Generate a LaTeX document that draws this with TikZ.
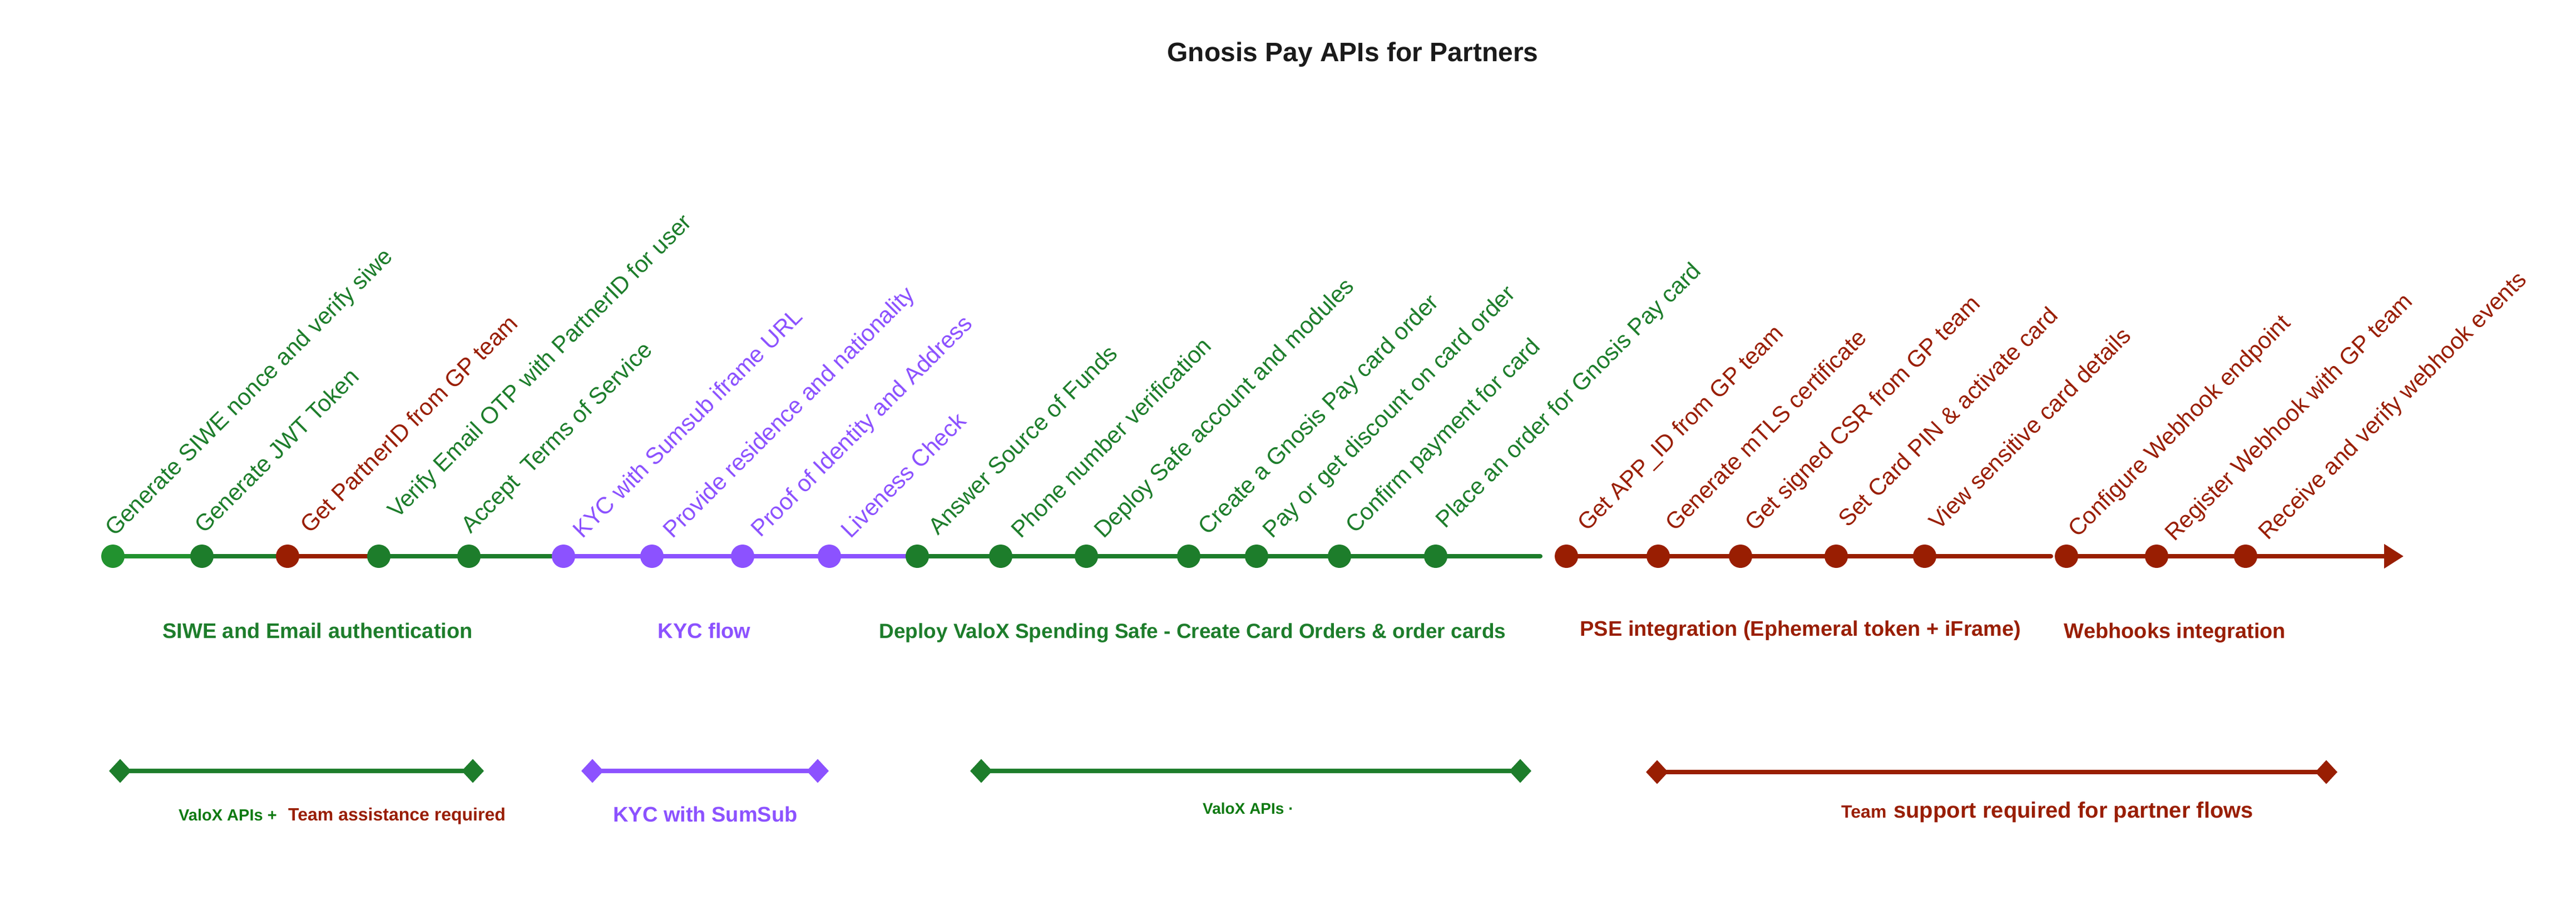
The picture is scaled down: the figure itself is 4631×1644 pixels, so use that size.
\documentclass[tikz,border=0pt]{standalone}
\usepackage{fontspec}
\setmainfont{Liberation Sans}
\usetikzlibrary{shapes.geometric,arrows.meta,backgrounds}
\definecolor{gdark}{HTML}{1D7D2B}
\definecolor{glight}{HTML}{22922F}
\definecolor{gtext}{HTML}{0F7A12}
\definecolor{rdark}{HTML}{991E02}
\definecolor{purp}{HTML}{8C52FF}
\definecolor{ttl}{HTML}{1A1A1A}
\begin{document}
\begin{tikzpicture}[x=1pt,y=-1pt,
  tdot/.style={circle,inner sep=0pt,minimum size=42pt,fill=#1},
  lbl/.style={rotate=45,anchor=base west,inner sep=0pt,text=#1,font=\fontsize{42}{50}\selectfont,xshift=20pt},
  seg/.style={line width=8pt,draw=#1,line cap=round},
  cat/.style={anchor=base,inner sep=0pt,text=#1,font=\fontsize{38}{46}\selectfont\bfseries},
  sub/.style={anchor=base west,inner sep=0pt,text=#1},
  dmd/.style={diamond,inner sep=0pt,minimum width=40pt,minimum height=43pt,fill=#1},
  bar/.style={line width=8pt,draw=#1}
]
\useasboundingbox (0,0) rectangle (4631,1644);

% title
\node[anchor=base,inner sep=0pt,text=ttl,font=\fontsize{48}{56}\selectfont\bfseries] (title) at (2432,110) {Gnosis Pay APIs for Partners};

% dots
\node[tdot=glight] (d1) at (203,1000) {};
\node[tdot=gdark] (d2) at (363,1000) {};
\node[tdot=rdark] (d3) at (517,1000) {};
\node[tdot=gdark] (d4) at (681,1000) {};
\node[tdot=gdark] (d5) at (843,1000) {};
\node[tdot=purp] (d6) at (1013,1000) {};
\node[tdot=purp] (d7) at (1172,1000) {};
\node[tdot=purp] (d8) at (1335,1000) {};
\node[tdot=purp] (d9) at (1491,1000) {};
\node[tdot=gdark] (d10) at (1649,1000) {};
\node[tdot=gdark] (d11) at (1799,1000) {};
\node[tdot=gdark] (d12) at (1953,1000) {};
\node[tdot=gdark] (d13) at (2137,1000) {};
\node[tdot=gdark] (d14) at (2259,1000) {};
\node[tdot=gdark] (d15) at (2408,1000) {};
\node[tdot=gdark] (d16) at (2581,1000) {};
\node[tdot=rdark] (d17) at (2816,1000) {};
\node[tdot=rdark] (d18) at (2981,1000) {};
\node[tdot=rdark] (d19) at (3129,1000) {};
\node[tdot=rdark] (d20) at (3301,1000) {};
\node[tdot=rdark] (d21) at (3460,1000) {};
\node[tdot=rdark] (d22) at (3715,1000) {};
\node[tdot=rdark] (d23) at (3877,1000) {};
\node[tdot=rdark] (d24) at (4037,1000) {};
\coordinate (gend) at (2769,1000);
\coordinate (rend) at (3687,1000);
\coordinate (tip) at (4321,1000);

\begin{scope}[on background layer]
\draw[seg=glight] (d1.center) -- (d2.center);
\draw[seg=gdark] (d2.center) -- (d3.center);
\draw[seg=rdark] (d3.center) -- (d4.center);
\draw[seg=gdark] (d4.center) -- (d5.center) -- (d6.center);
\draw[seg=purp] (d6.center) -- (d7.center) -- (d8.center) -- (d9.center) -- (d10.center);
\draw[seg=gdark] (d10.center) -- (d11.center) -- (d12.center) -- (d13.center) -- (d14.center) -- (d15.center) -- (d16.center) -- (gend);
\draw[seg=rdark] (d17.center) -- (d18.center) -- (d19.center) -- (d20.center) -- (d21.center) -- (rend);
\draw[line width=8pt,draw=rdark,-{Triangle[length=35pt,width=42pt]}] (d22.center) -- (d23.center) -- (d24.center) -- (tip);
\end{scope}

% step labels
\node[lbl=gdark] (l1) at (192,980) {Generate SIWE nonce and verify siwe};
\node[lbl=gdark] (l2) at (353,975) {Generate JWT Token};
\node[lbl=rdark] (l3) at (543,975) {Get PartnerID from GP team};
\node[lbl=gdark] (l4) at (700,948) {Verify Email OTP with PartnerID for user};
\node[lbl=gdark] (l5) at (832,975) {Accept\ \ Terms of Service};
\node[lbl=purp] (l6) at (1033,984) {KYC with Sumsub iframe URL};
\node[lbl=purp] (l7) at (1195,984) {Provide residence and nationality};
\node[lbl=purp] (l8) at (1353,982) {Proof of Identity and Address};
\node[lbl=purp] (l9) at (1515,984) {Liveness Check};
\node[lbl=gdark] (l10) at (1672,978) {Answer Source of Funds};
\node[lbl=gdark] (l11) at (1821,984) {Phone number verification};
\node[lbl=gdark] (l12) at (1970,984) {Deploy Safe account and modules};
\node[lbl=gdark] (l13) at (2157,978) {Create a Gnosis Pay card order};
\node[lbl=gdark] (l14) at (2273,984) {Pay or get discount on card order};
\node[lbl=gdark] (l15) at (2422,975) {Confirm payment for card};
\node[lbl=gdark] (l16) at (2584,966) {Place an order for Gnosis Pay card};
\node[lbl=rdark] (l17) at (2839,971) {Get APP\_ID from GP team};
\node[lbl=rdark] (l18) at (2997,971) {Generate mTLS certificate};
\node[lbl=rdark] (l19) at (3140,971) {Get signed CSR from GP team};
\node[lbl=rdark] (l20) at (3308,964) {Set Card PIN \& activate card};
\node[lbl=rdark] (l21) at (3471,969) {View sensitive card details};
\node[lbl=rdark] (l22) at (3721,982) {Configure Webhook endpoint};
\node[lbl=rdark] (l23) at (3895,989) {Register Webhook with GP team};
\node[lbl=rdark] (l24) at (4063,987) {Receive and verify webhook events};

% category labels
\node[cat=gdark] (c1) at (571,1147) {SIWE and Email authentication};
\node[cat=purp] (c2) at (1266,1147) {KYC flow};
\node[cat=gdark,font=\fontsize{37}{44}\selectfont\bfseries] (c3) at (2144,1147) {Deploy ValoX Spending Safe - Create Card Orders \& order cards};
\node[cat=rdark] (c4) at (3237,1143) {PSE integration (Ephemeral token + iFrame)};
\node[cat=rdark] (c5) at (3910,1147) {Webhooks integration};

% range bars
\node[dmd=gdark] (b1a) at (216,1386) {};
\node[dmd=gdark] (b1b) at (850,1386) {};
\node[dmd=purp] (b2a) at (1065,1386) {};
\node[dmd=purp] (b2b) at (1470,1386) {};
\node[dmd=gdark] (b3a) at (1764,1386) {};
\node[dmd=gdark] (b3b) at (2733,1386) {};
\node[dmd=rdark] (b4a) at (2979,1388) {};
\node[dmd=rdark] (b4b) at (4182,1388) {};
\begin{scope}[on background layer]
\draw[bar=gdark] (b1a.center) -- (b1b.center);
\draw[bar=purp] (b2a.center) -- (b2b.center);
\draw[bar=gdark] (b3a.center) -- (b3b.center);
\draw[bar=rdark] (b4a.center) -- (b4b.center);
\end{scope}

% bar captions
\node[sub=gtext,font=\fontsize{29}{34}\selectfont\bfseries] (s1) at (321,1475) {ValoX APIs +};
\node[sub=rdark,font=\fontsize{32}{38}\selectfont\bfseries] (s2) at (518,1475) {Team assistance required};
\node[anchor=base,inner sep=0pt,text=purp,font=\fontsize{38}{46}\selectfont\bfseries] (s3) at (1268,1477) {KYC with SumSub};
\node[sub=gtext,font=\fontsize{28}{34}\selectfont\bfseries] (s4) at (2162,1463) {ValoX APIs ·};
\node[sub=rdark,font=\fontsize{32}{38}\selectfont\bfseries] (s5) at (3310,1470) {Team};
\node[sub=rdark,font=\fontsize{40}{48}\selectfont\bfseries] (s6) at (3404,1470) {support required for partner flows};
\end{tikzpicture}
\end{document}
